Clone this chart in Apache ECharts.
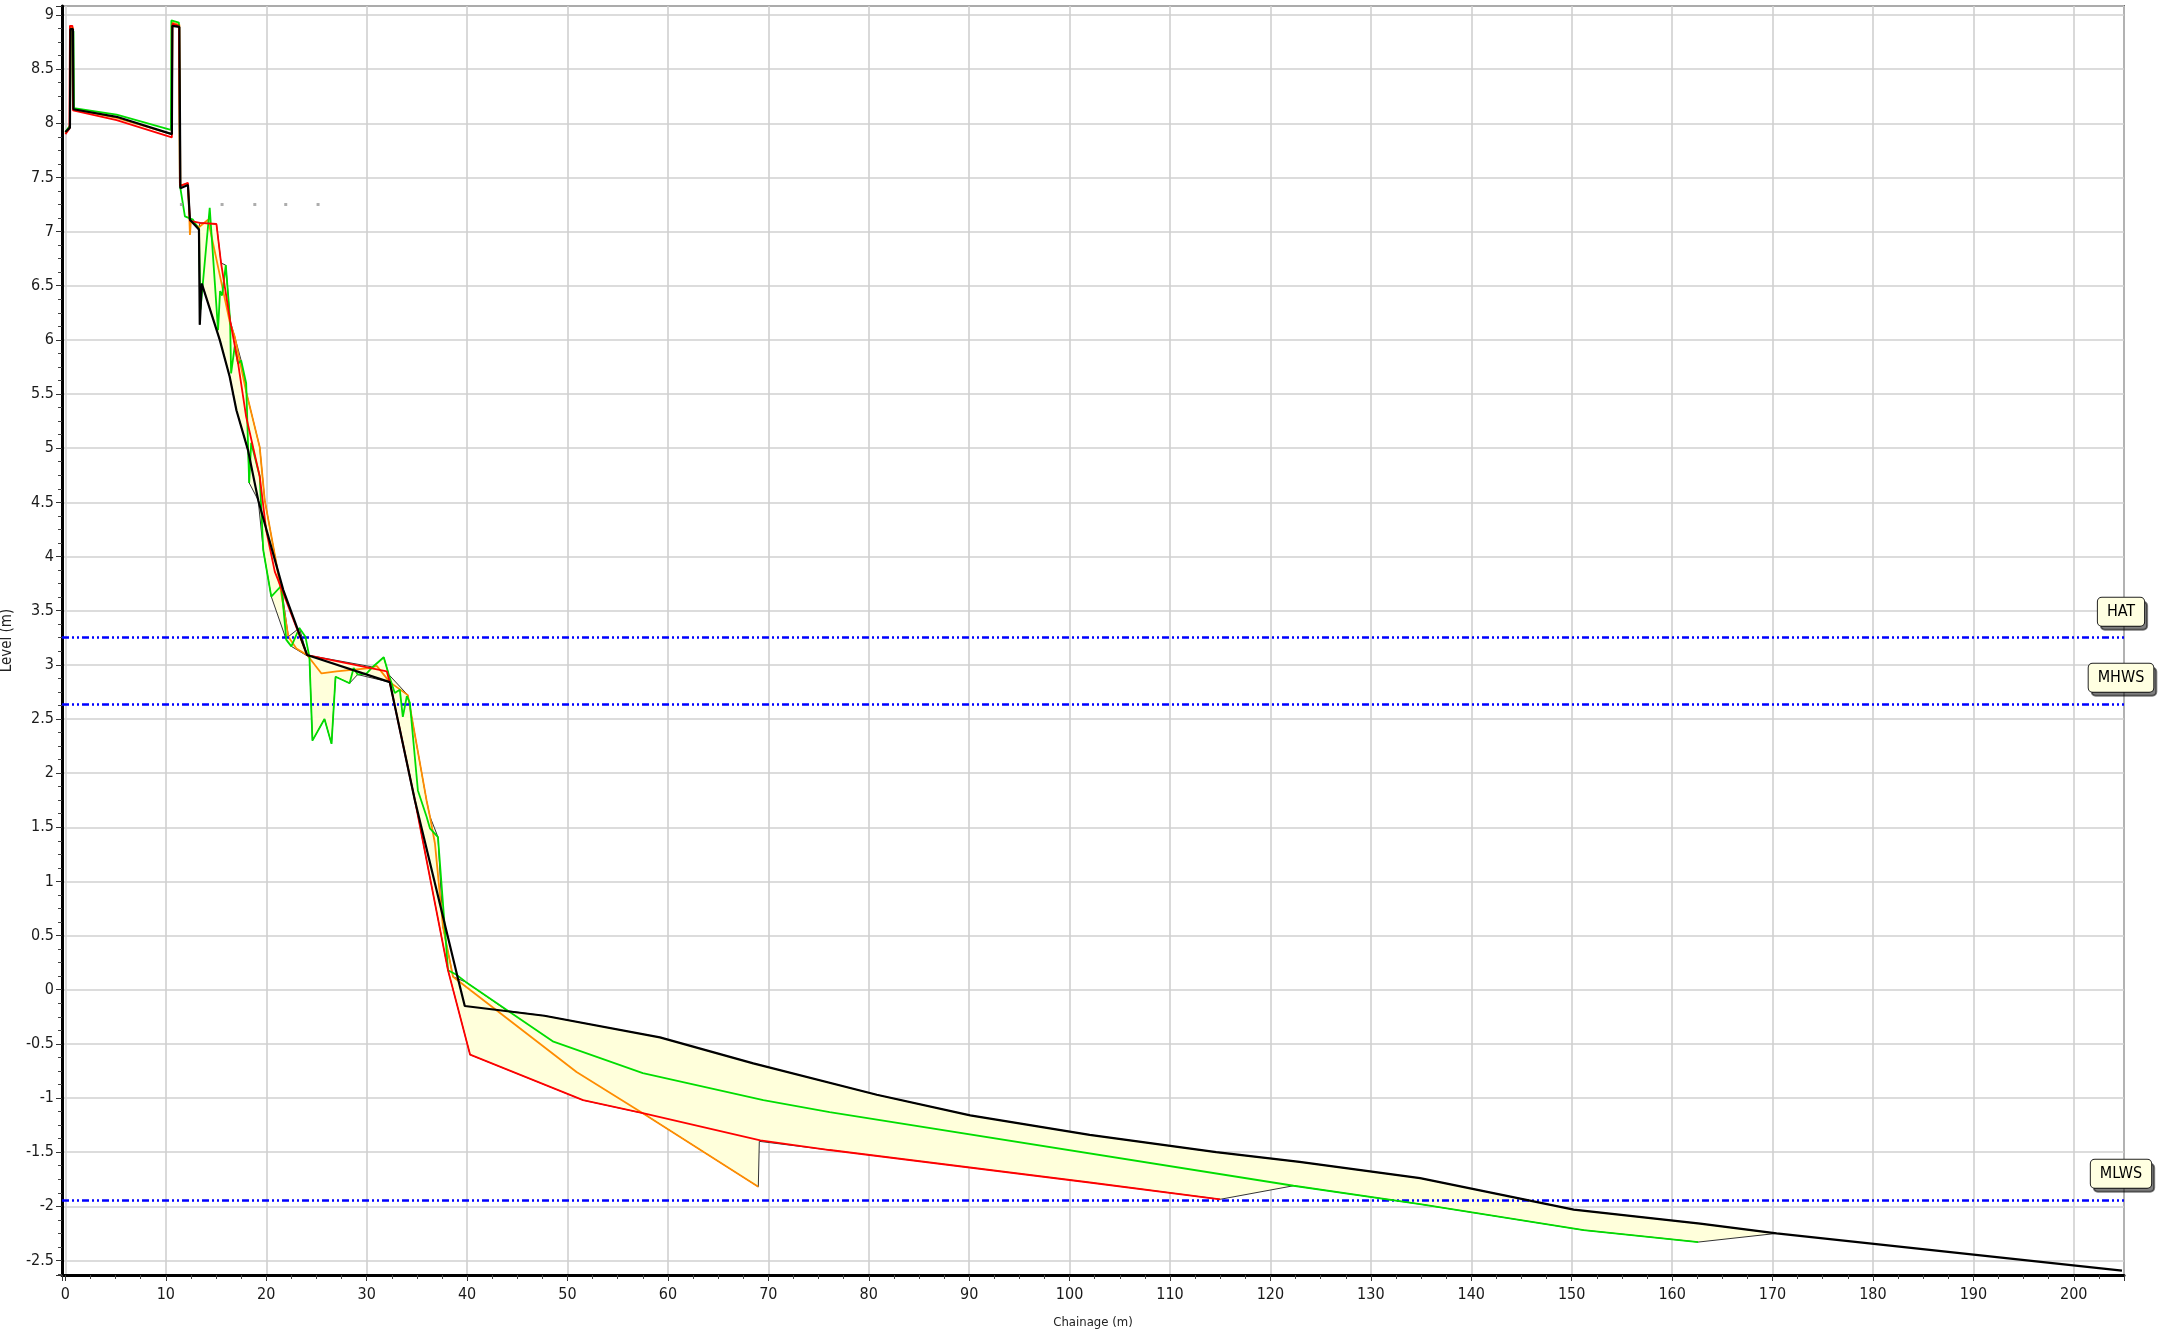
<!DOCTYPE html>
<html><head><meta charset="utf-8">
<script src="https://cdn.jsdelivr.net/npm/echarts@6/dist/echarts.min.js"></script>
<style>html,body{margin:0;padding:0;background:#fff}#c{width:2160px;height:1334px}</style>
</head><body><div id="c"></div>
<script>
// ---- data (chainage m, level m) ----
const profileBlack = [[0,7.92],[0.45,7.96],[0.5,8.87],[0.75,8.87],[0.8,8.13],[5.1,8.06],[10.6,7.9],[10.65,8.9],[11.35,8.89],[11.45,7.4],[12.2,7.43],[12.4,7.11],[13.3,7.02],[13.38,6.14],[13.58,6.52],[15.37,6.0],[16.36,5.66],[17.03,5.35],[18.19,4.98],[19.2,4.52],[21.7,3.69],[24.07,3.09],[32.3,2.84],[34.8,1.75],[39.1,0.1],[39.77,-0.15],[47.7,-0.24],[59.2,-0.44],[68.5,-0.68],[80.8,-0.97],[90.1,-1.16],[102,-1.34],[114.6,-1.5],[122.9,-1.59],[134.9,-1.74],[143.9,-1.91],[150.2,-2.03],[162.8,-2.16],[170.4,-2.25],[204.8,-2.594]];
const profileRed = [[0,7.9],[0.4,7.95],[0.45,8.9],[0.7,8.9],[0.75,8.12],[5.1,8.03],[10.6,7.87],[10.65,8.92],[11.3,8.9],[11.4,7.42],[12.2,7.45],[12.4,7.1],[13.4,7.08],[15.04,7.07],[15.5,6.71],[16.4,6.18],[17.2,5.78],[18.0,5.29],[19.35,4.74],[20.0,4.24],[20.85,3.86],[21.7,3.66],[24.07,3.09],[32.0,2.94],[32.3,2.84],[34.8,1.75],[38.1,0.18],[40.3,-0.6],[51.55,-1.02],[57.5,-1.14],[69.2,-1.39],[76.1,-1.48],[102,-1.78],[115,-1.935]];
const profileOrange = [[0,7.91],[0.45,7.97],[0.5,8.9],[0.75,8.88],[0.8,8.13],[5.1,8.05],[10.6,7.9],[10.65,8.93],[11.35,8.91],[11.45,7.43],[12.2,7.44],[12.35,7.1],[12.4,6.97],[12.5,7.1],[13.3,7.04],[14.2,7.11],[16.4,6.15],[16.86,6.03],[18.03,5.51],[19.35,5.01],[19.85,4.52],[21.0,3.94],[22.2,3.26],[23.0,3.15],[24.07,3.09],[25.5,2.92],[27.0,2.94],[30.3,2.97],[31.0,2.99],[32.3,2.84],[34.1,2.72],[35.96,1.75],[36.3,1.6],[36.8,1.35],[37.6,0.58],[38.6,0.12],[50.9,-0.76],[57.5,-1.14],[69.0,-1.82]];
const profileGreen = [[0,7.92],[0.45,7.98],[0.55,8.86],[0.8,8.85],[0.85,8.14],[5.1,8.08],[10.5,7.94],[10.55,8.95],[11.3,8.93],[11.4,7.43],[11.9,7.14],[12.7,7.11],[13.3,7.02],[13.45,6.28],[14.37,7.22],[15.2,6.09],[15.4,6.45],[15.6,6.41],[15.97,6.69],[16.4,6.18],[16.5,5.69],[16.86,5.94],[17.2,5.78],[17.5,5.81],[18.0,5.6],[18.3,4.68],[18.5,5.05],[19.35,4.74],[19.7,4.06],[20.5,3.63],[21.5,3.73],[22.0,3.23],[22.5,3.17],[23.3,3.34],[23.9,3.26],[24.3,3.07],[24.6,2.3],[25.8,2.5],[26.5,2.27],[26.9,2.89],[28.3,2.83],[28.7,2.97],[29.1,2.91],[30.0,2.92],[30.6,2.98],[31.7,3.07],[32.2,2.91],[32.8,2.74],[33.3,2.77],[33.6,2.52],[34.0,2.71],[34.3,2.65],[35.1,1.84],[35.96,1.6],[36.3,1.49],[37.1,1.41],[38.1,0.18],[38.9,0.14],[39.9,0.07],[48.6,-0.48],[57.5,-0.77],[69.5,-1.02],[76.1,-1.13],[122.3,-1.81],[134.9,-1.98],[151.2,-2.22],[162.6,-2.33]];
// envelope of the change area (upper edge left->right, lower edge right->left)
const fillTop = [[13.3,7.04],[13.4,7.08],[15.04,7.07],[15.5,6.71],[15.97,6.69],[16.4,6.18],[16.86,6.03],[17.5,5.81],[18.03,5.51],[19.35,5.01],[19.85,4.52],[21.0,3.94],[21.5,3.73],[22.2,3.26],[23.3,3.34],[24.07,3.09],[30.6,2.98],[31.7,3.07],[32.2,2.91],[34.1,2.72],[35.96,1.75],[36.3,1.6],[37.1,1.41],[37.6,0.58],[38.6,0.12],[39.9,0.07],[44.0,-0.195],[47.7,-0.24],[59.2,-0.44],[68.5,-0.68],[80.8,-0.97],[90.1,-1.16],[102,-1.34],[114.6,-1.5],[122.9,-1.59],[134.9,-1.74],[143.9,-1.91],[150.2,-2.03],[162.8,-2.16],[170.4,-2.25]];
const fillBottom = [[162.6,-2.33],[151.2,-2.22],[134.9,-1.98],[122.3,-1.81],[115,-1.935],[102,-1.78],[76.1,-1.48],[69.1,-1.4],[69.0,-1.82],[57.5,-1.14],[51.55,-1.02],[40.3,-0.6],[38.1,0.18],[34.8,1.75],[32.3,2.84],[29.1,2.91],[28.3,2.83],[26.9,2.89],[26.5,2.27],[25.8,2.5],[24.6,2.3],[24.3,3.07],[22.5,3.17],[22.0,3.23],[20.5,3.63],[19.7,4.06],[19.2,4.52],[18.3,4.68],[18.19,4.98],[17.03,5.35],[16.36,5.66],[15.37,6.0],[13.58,6.52],[13.38,6.14],[13.3,7.02]];
const markerPoints = [[11.55,7.25],[15.6,7.25],[18.86,7.25],[21.94,7.25],[25.16,7.25]];
const tideNames = ['HAT','MHWS','MLWS'];
const tideLevels = [3.25, 2.64, -1.94];
const xRange = [-0.34, 205.0];
const yRange = [-2.634, 9.083];

// ---- chart ----
const FONT = "'DejaVu Sans Condensed','Liberation Sans',sans-serif";
const chart = echarts.init(document.getElementById('c'), null, {renderer:'canvas'});
const fillPolygon = fillTop.concat(fillBottom);
const lineS = (name, data, color, w, z) => ({
  name, type:'line', data, showSymbol:false, symbol:'none', z,
  lineStyle:{color, width:w}, itemStyle:{color}, animation:false, silent:true
});
const isMult = (v, step) => Math.abs(v/step - Math.round(v/step)) < 1e-6;
chart.setOption({
  backgroundColor:'#fff',
  animation:false,
  grid:{left:62, right:36, top:6, bottom:59, show:true, borderColor:'#000', borderWidth:1.5, backgroundColor:'transparent', outerBoundsMode:'none'},
  xAxis:{
    type:'value', min:xRange[0], max:xRange[1], minInterval:10, maxInterval:10, splitNumber:20,
    name:'Chainage (m)', nameLocation:'middle', nameGap:41,
    nameTextStyle:{color:'#222', fontSize:13, fontFamily:FONT},
    axisLine:{onZero:false, lineStyle:{color:'#000', width:3}},
    axisTick:{show:true, length:6, lineStyle:{color:'#333', width:1}},
    minorTick:{show:true, splitNumber:4, length:4, lineStyle:{color:'#444', width:1}},
    splitLine:{show:true, lineStyle:{color:'#d0d0d0', width:1.6}},
    axisLabel:{color:'#1a1a1a', fontSize:16, fontFamily:FONT, margin:12,
      formatter:v => isMult(v,10) ? String(Math.round(v)) : ''}
  },
  yAxis:{
    type:'value', min:yRange[0], max:yRange[1], minInterval:0.5, maxInterval:0.5, splitNumber:23,
    name:'Level (m)', nameLocation:'middle', nameGap:47, nameRotate:90,
    nameTextStyle:{color:'#222', fontSize:15, fontFamily:FONT},
    axisLine:{onZero:false, lineStyle:{color:'#000', width:3}},
    axisTick:{show:true, length:6, lineStyle:{color:'#333', width:1}},
    minorTick:{show:true, splitNumber:4, length:4, lineStyle:{color:'#444', width:1}},
    splitLine:{show:true, lineStyle:{color:'#d0d0d0', width:1.6}},
    axisLabel:{color:'#1a1a1a', fontSize:16, fontFamily:FONT, margin:8,
      formatter:v => isMult(v,0.5) ? String(Math.round(v*2)/2) : ''}
  },
  series:[
    {
      type:'custom', name:'fill', z:1, silent:true, animation:false,
      data:[fillPolygon[0]],
      renderItem:(params, api) => ({
        type:'polygon',
        shape:{points: fillPolygon.map(p => api.coord(p))},
        style:{fill:'#FFFFDB', stroke:'#333', lineWidth:1}
      })
    },
    {
      type:'line', name:'tide', data:[], z:3, silent:true, animation:false,
      markLine:{
        silent:true, symbol:['none','none'], animation:false,
        lineStyle:{color:'#0000FF', width:2.5, type:[7,3,2,3,2,3]},
        label:{show:true, position:'insideEndTop', distance:[3,12], align:'center',
          formatter:'{b}', color:'#000', fontSize:16, fontFamily:FONT,
          backgroundColor:'#FFFFE1', borderColor:'#222', borderWidth:1, borderRadius:4,
          padding:[6,9,6,9], shadowColor:'rgba(0,0,0,0.5)', shadowOffsetX:3, shadowOffsetY:4, shadowBlur:0},
        data: tideLevels.map((v,i) => ({name:tideNames[i], yAxis:v}))
      }
    },
    lineS('Profile D', profileOrange, '#FF8C00', 1.8, 4),
    lineS('Profile C', profileGreen, '#00DD00', 1.8, 5),
    lineS('Profile B', profileRed, '#FF0000', 1.8, 6),
    lineS('Profile A', profileBlack, '#000000', 2.2, 7),
    {
      type:'scatter', name:'markers', data:markerPoints, symbol:'rect', symbolSize:3,
      itemStyle:{color:'#999'}, z:8, silent:true, animation:false
    }
  ]
});
</script>
</body></html>
